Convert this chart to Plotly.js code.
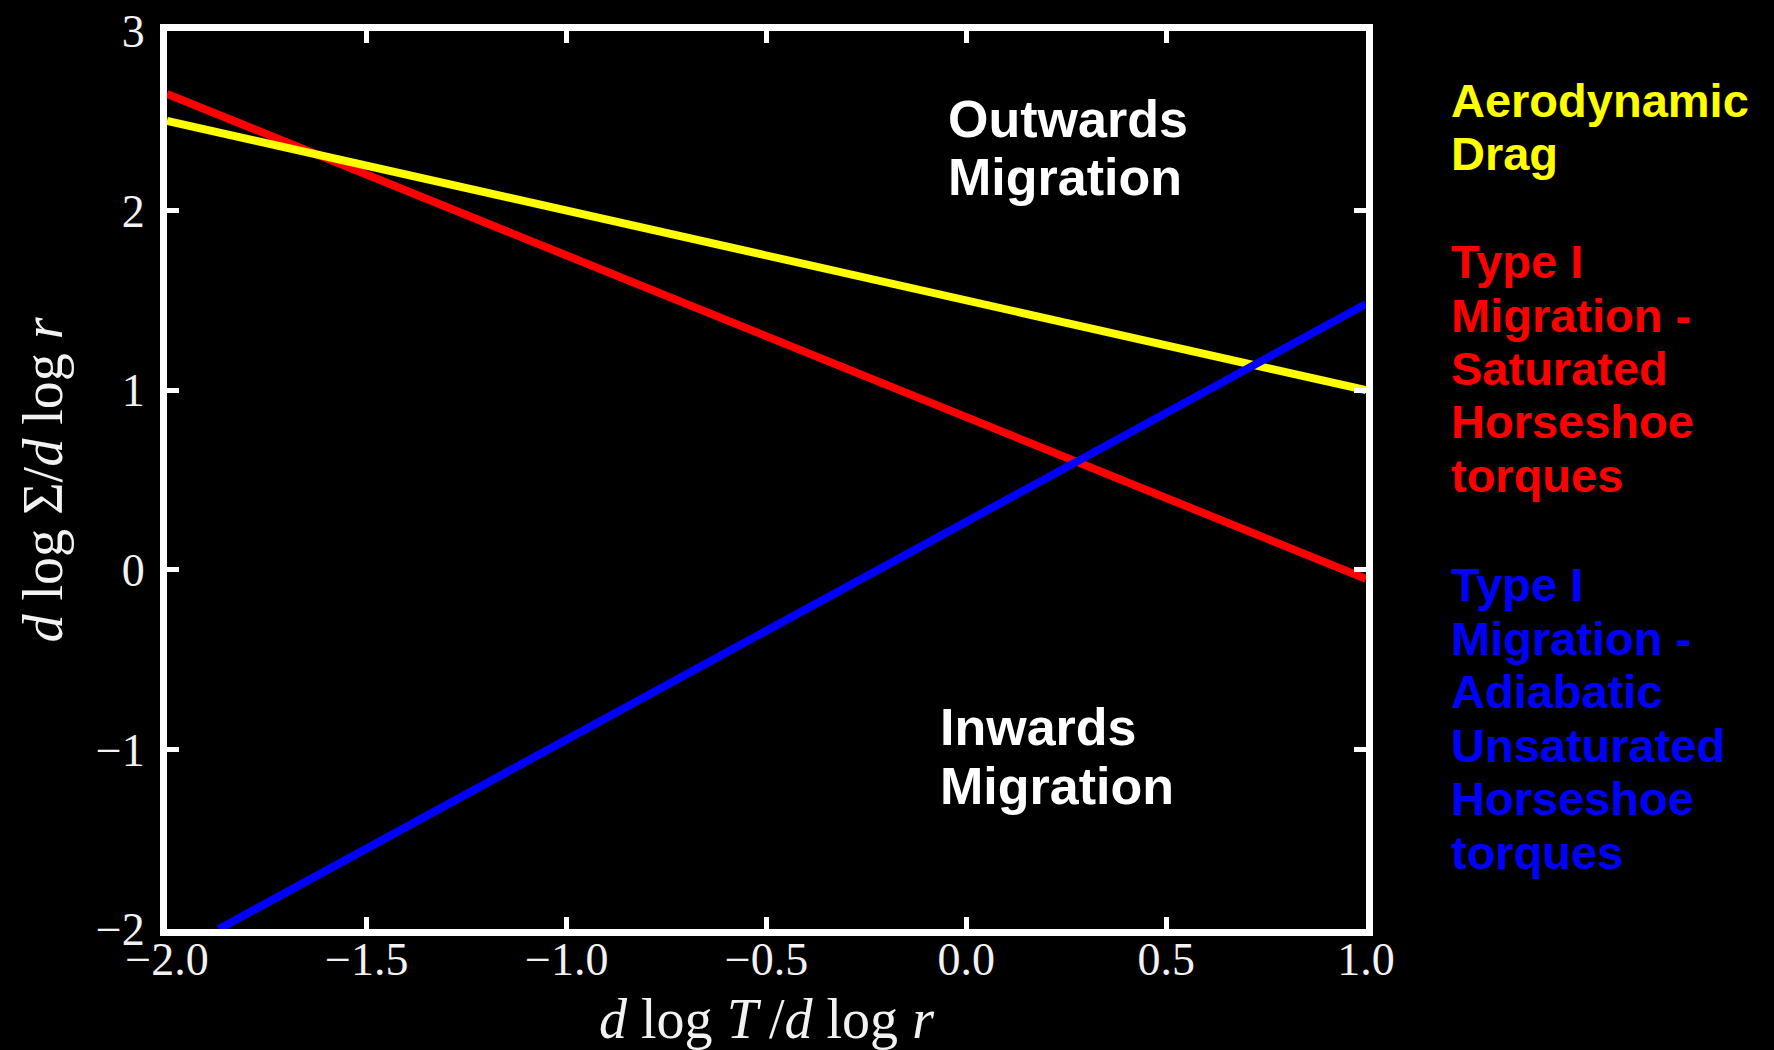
<!DOCTYPE html>
<html>
<head>
<meta charset="utf-8">
<script src="https://cdn.plot.ly/plotly-3.0.1.min.js"></script>
<style>
  html, body { margin: 0; padding: 0; background: #000; }
  #chart { width: 1774px; height: 1050px; }
</style>
</head>
<body>
<div id="chart"></div>
<script>
// ---- data ----
const dragX = [-2.0, 1.0];
const dragY = [2.50, 1.00];            // Aerodynamic drag
const saturatedX = [-2.0, 1.0];
const saturatedY = [2.65, -0.05];      // Type I, saturated horseshoe torques
const adiabaticX = [-1.87, 1.0];
const adiabaticY = [-2.0, 1.48];       // Type I, adiabatic unsaturated horseshoe torques

const xTicks = [-2.0, -1.5, -1.0, -0.5, 0.0, 0.5, 1.0];
const yTicks = [-2, -1, 0, 1, 2, 3];

const dragLabel = ["Aerodynamic", "Drag"];
const saturatedLabel = ["Type I", "Migration -", "Saturated", "Horseshoe", "torques"];
const adiabaticLabel = ["Type I", "Migration -", "Adiabatic", "Unsaturated", "Horseshoe", "torques"];
const outwardsLabel = ["Outwards", "Migration"];
const inwardsLabel = ["Inwards", "Migration"];

// ---- layout geometry ----
const W = 1774, H = 1050;
const M = { l: 167, r: 408, t: 31, b: 121 };
const PW = W - M.l - M.r, PH = H - M.t - M.b;
const px = v => (v - M.l) / PW;
const py = v => (H - M.b - v) / PH;

const sansBold = "Liberation Sans, Arial, sans-serif";
const serif = "Liberation Serif, Times New Roman, serif";

function block(lines, xPix, yPixCenters, color, size) {
  return lines.map((t, i) => ({
    text: "<b>" + t + "</b>",
    xref: "paper", yref: "paper",
    x: px(xPix), y: py(yPixCenters[i]),
    xanchor: "left", yanchor: "middle",
    showarrow: false, borderpad: 0, borderwidth: 0,
    font: { family: sansBold, size: size, color: color }
  }));
}

const annotations = [].concat(
  block(dragLabel, 1451, [100.7, 153.7], "#ffff00", 47),
  block(saturatedLabel, 1451, [261.7, 315.7, 368.7, 421.7, 475.7], "#ff0000", 47),
  block(adiabaticLabel, 1451, [584.7, 638.2, 691.7, 745.2, 798.7, 852.2], "#0000ff", 47),
  block(outwardsLabel, 948, [119, 177], "#ffffff", 52),
  block(inwardsLabel, 940, [727, 786], "#ffffff", 52)
);

const lineW = 8;
const traces = [
  { x: saturatedX, y: saturatedY, mode: "lines", name: "Type I – saturated",
    line: { color: "#ff0000", width: lineW } },
  { x: dragX, y: dragY, mode: "lines", name: "Aerodynamic drag",
    line: { color: "#ffff00", width: lineW } },
  { x: adiabaticX, y: adiabaticY, mode: "lines", name: "Type I – adiabatic",
    line: { color: "#0000ff", width: lineW } }
];

const axisCommon = {
  showgrid: false, zeroline: false,
  showline: true, linecolor: "#ffffff", linewidth: 7, mirror: "allticks",
  ticks: "inside", ticklen: 12, tickwidth: 5, tickcolor: "#ffffff",
  tickfont: { family: serif, size: 46, color: "#f2f2f2" }
};

const layout = {
  width: W, height: H,
  margin: M,
  paper_bgcolor: "#000000", plot_bgcolor: "#000000",
  showlegend: false,
  xaxis: Object.assign({}, axisCommon, {
    range: [-2, 1], tickmode: "array", tickvals: xTicks, tickformat: ".1f",
    ticklabelstandoff: -16,
    title: { text: "<i>d</i> log <i>T</i>\u2009/<i>d</i> log <i>r</i>", standoff: 19,
             font: { family: serif, size: 56, color: "#f2f2f2" } }
  }),
  yaxis: Object.assign({}, axisCommon, {
    range: [-2, 3], tickmode: "array", tickvals: yTicks, tickformat: "d",
    ticklabelstandoff: 6,
    title: { text: "<i>d</i> log Σ/<i>d</i> log <i>r</i>", standoff: 18,
             font: { family: serif, size: 56, color: "#f2f2f2" } }
  }),
  annotations: annotations
};

Plotly.newPlot("chart", traces, layout, { staticPlot: true, displayModeBar: false });
</script>
</body>
</html>
